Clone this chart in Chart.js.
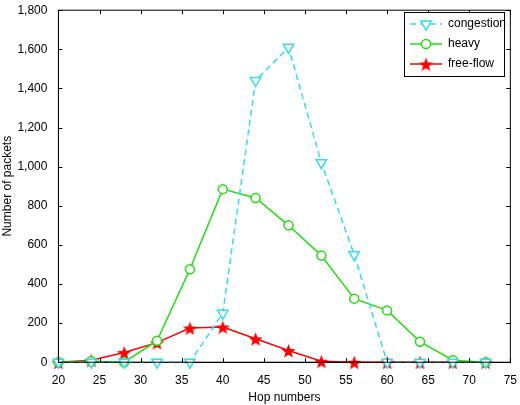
<!DOCTYPE html>
<html>
<head>
<meta charset="utf-8">
<script src="https://cdn.jsdelivr.net/npm/chart.js@4"></script>
<style>
  body { margin: 0; background: #fff; }
  #wrap { width: 520px; height: 405px; }
</style>
</head>
<body>
<div id="wrap"><canvas id="myChart"></canvas></div>
<script>
'use strict';

// chart data
let hops = [20, 24, 28, 32, 36, 40, 44, 48, 52, 56, 60, 64, 68, 72];
let congestion = [0, 0, 0, 0, 0, 250, 1440, 1610, 1020, 550, 0, 0, 0, 0];
let heavy = [0, 5, 0, 110, 475, 885, 840, 700, 545, 325, 265, 105, 10, 0];
let freeFlow = [0, 10, 50, 100, 175, 180, 120, 60, 5, 0, 0, 0, 0, 0];
let seriesNames = ['congestion', 'heavy', 'free-flow'];

function toPoints(values) {
  return hops.map((h, i) => ({ x: h, y: values[i] }));
}

// filled red star marker
function makeStar(size, color) {
  let c = document.createElement('canvas');
  c.width = size;
  c.height = size;
  let g = c.getContext('2d');
  let r = size / 2, r2 = r * 0.42;
  g.beginPath();
  for (let i = 0; i < 10; i++) {
    let rad = i % 2 === 0 ? r : r2;
    let a = -Math.PI / 2 + i * Math.PI / 5;
    g.lineTo(r + rad * Math.cos(a), r + rad * Math.sin(a) + 1);
  }
  g.closePath();
  g.fillStyle = color;
  g.fill();
  return c;
}
let star = makeStar(15, '#ff0000');

// box border, inward ticks, legend
let boxPlugin = {
  id: 'box',
  afterDraw(chart) {
    let ctx = chart.ctx;
    let a = chart.chartArea;
    ctx.save();
    ctx.strokeStyle = '#000';
    ctx.lineWidth = 1;
    ctx.strokeRect(a.left, a.top, a.right - a.left, a.bottom - a.top);
    let xs = chart.scales.x, ys = chart.scales.y;
    ctx.beginPath();
    xs.ticks.forEach(t => {
      let px = Math.round(xs.getPixelForValue(t.value)) + 0.5;
      ctx.moveTo(px, a.bottom); ctx.lineTo(px, a.bottom - 4);
      ctx.moveTo(px, a.top); ctx.lineTo(px, a.top + 4);
    });
    ys.ticks.forEach(t => {
      let py = Math.round(ys.getPixelForValue(t.value)) + 0.5;
      ctx.moveTo(a.left, py); ctx.lineTo(a.left + 4, py);
      ctx.moveTo(a.right, py); ctx.lineTo(a.right - 4, py);
    });
    ctx.stroke();

    // legend
    let lx = 404, ly = 12, lw = 100, lh = 64;
    ctx.fillStyle = '#fff';
    ctx.fillRect(lx, ly, lw, lh);
    ctx.strokeRect(lx + 0.5, ly + 0.5, lw, lh);
    ctx.font = '12px "Liberation Sans", Arial, sans-serif';
    ctx.textBaseline = 'middle';
    chart.data.datasets.forEach((ds, i) => {
      let y = ly + 12 + i * 20;
      ctx.strokeStyle = ds.borderColor;
      ctx.lineWidth = ds.borderWidth;
      ctx.setLineDash(ds.borderDash || []);
      ctx.beginPath();
      ctx.moveTo(lx + 6, y); ctx.lineTo(lx + 38, y);
      ctx.stroke();
      ctx.setLineDash([]);
      let meta = chart.getDatasetMeta(i);
      let opts = meta.data[0].options;
      ctx.fillStyle = opts.backgroundColor;
      ctx.strokeStyle = opts.borderColor;
      Chart.helpers.drawPoint(ctx, {
        pointStyle: opts.pointStyle, rotation: opts.rotation,
        radius: opts.radius, borderWidth: opts.borderWidth
      }, lx + 22, y);
      ctx.fillStyle = '#000';
      ctx.fillText(ds.label, lx + 44, y);
    });
    ctx.restore();
  }
};

const ctx = document.getElementById('myChart').getContext('2d');
const myChart = new Chart(ctx, {
  type: 'line',
  data: {
    datasets: [
      {
        label: seriesNames[0], data: toPoints(congestion), clip: false,
        borderColor: '#33ddee', backgroundColor: '#fff', borderWidth: 1.5,
        borderDash: [6, 4], pointStyle: 'triangle', rotation: 180,
        pointRadius: 6, pointBorderColor: '#33ddee', pointBackgroundColor: '#fff'
      },
      {
        label: seriesNames[1], data: toPoints(heavy), clip: false,
        borderColor: '#22dd11', backgroundColor: '#fff', borderWidth: 1.5,
        pointStyle: 'circle', pointRadius: 4.5,
        pointBorderColor: '#22dd11', pointBackgroundColor: '#fff'
      },
      {
        label: seriesNames[2], data: toPoints(freeFlow), clip: false,
        borderColor: '#ff0000', backgroundColor: '#ff0000', borderWidth: 1.5,
        pointStyle: star, pointRadius: 7
      }
    ]
  },
  options: {
    responsive: true,
    maintainAspectRatio: false,
    animation: false,
    layout: { padding: { top: 7, right: 9, bottom: 0, left: 0 } },
    plugins: { legend: { display: false }, tooltip: { enabled: false } },
    scales: {
      x: {
        type: 'linear', min: 20, max: 75,
        ticks: { stepSize: 5, color: '#000', font: { size: 12, family: 'Liberation Sans' } },
        grid: { display: false },
        border: { color: '#000' },
        title: { display: true, text: 'Hop numbers', color: '#000', padding: 0,
          font: { size: 12, family: 'Liberation Sans' } }
      },
      y: {
        min: 0, max: 1800,
        ticks: { stepSize: 200, color: '#000', font: { size: 12, family: 'Liberation Sans' },
          callback: v => v.toLocaleString('en-US') },
        grid: { display: false },
        border: { color: '#000' },
        title: { display: true, text: 'Number of packets', color: '#000', padding: 0,
          font: { size: 12, family: 'Liberation Sans' } }
      }
    }
  },
  plugins: [boxPlugin]
});
</script>
</body>
</html>
